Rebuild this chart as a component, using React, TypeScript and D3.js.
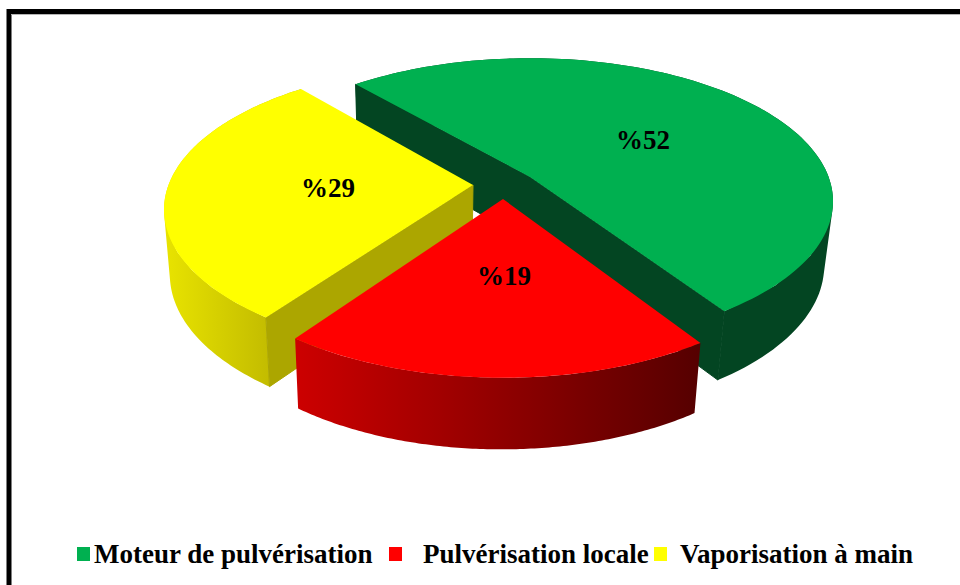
import React from "react";
import * as d3 from "d3";

const categories = ["Moteur de pulvérisation", "Pulvérisation locale", "Vaporisation à main"];
const shares = [52, 19, 29];
const topColors = ["#00b050", "#ff0000", "#ffff00"];
const cutColors = ["#034522", "#7a0000", "#aca600"];
// Which radial cut faces look toward the viewer: 0 = start edge, 1 = end edge
const visibleCuts = [[0, 1], [], [0]];
const wallStops = [
  ["#034522", "#034522"],
  ["#cc0000", "#560000"],
  ["#e8e300", "#c2bb00"],
];
// Horizontal span of each rim gradient
const wallSpans = [
  [350, 830],
  [298, 698],
  [166, 272],
];
// Position of each exploded slice's tip on the pie plane
const sliceTips = [
  [530, 177],
  [503, 199],
  [473, 185],
];
// Each exploded slice sits at a slightly different scale, tilt and turn
const sliceRadiusX = [298.6, 301, 304.5];
const sliceRadiusY = [139, 143, 141];
const slicePerspective = [0.17, 0.2, 0.17];
const sliceTurnDeg = [-0.7, 0.2, 0.8];
const labelPositions = [
  [643, 149],
  [504, 285],
  [328, 197],
];
const legendSwatchX = [77, 389, 654];
const legendTextX = [94, 423, 680];

const DEPTH_BASE = 56.5;
const DEPTH_PER_Y = 0.04;
const DEPTH_SCALE = 0.978;
const VANISH_X = 430;
const START_DEG = -40.5;
const ARC_STEPS = 120;
const WALL_CHUNK = 8;
const FONT = '"Liberation Serif", "Times New Roman", serif';

type Pt = [number, number];

// Perspective projection of a unit-disc point onto the screen
function rimPoint(i: number, angle: number): Pt {
  const u = Math.sin(angle);
  const v = -Math.cos(angle);
  const w = 1 - slicePerspective[i] * v;
  return [
    sliceTips[i][0] + (sliceRadiusX[i] * u) / w,
    sliceTips[i][1] + (sliceRadiusY[i] * v) / w,
  ];
}

// The same point dropped to the underside; the drop shrinks toward the back
function under(p: Pt): Pt {
  return [
    VANISH_X + (p[0] - VANISH_X) * DEPTH_SCALE,
    p[1] + DEPTH_BASE + DEPTH_PER_Y * p[1],
  ];
}

const closed = d3.line<Pt>().curve(d3.curveLinearClosed);

// The rim wall as hulls of short arc pieces: they share one winding, so a
// single path fills them without seams and keeps the tangent silhouette
function wallPath(rim: Pt[]): string {
  const pieces: string[] = [];
  for (let n = 0; n < rim.length - 1; n += WALL_CHUNK) {
    const chunk = rim.slice(n, n + WALL_CHUNK + 1);
    const hull = d3.polygonHull([...chunk, ...chunk.map(under)]) as Pt[];
    pieces.push(closed(hull)!);
  }
  return pieces.join("");
}

const arcs = d3
  .pie<number>()
  .sort(null)
  .startAngle((START_DEG * Math.PI) / 180)
  .endAngle((START_DEG * Math.PI) / 180 + 2 * Math.PI)(shares);

const drawOrder = [0, 2, 1];

export default function App() {
  return (
    <svg
      width={960}
      height={585}
      style={{ position: "absolute", left: 0, top: 0, background: "#fff" }}
    >
      <defs>
        {wallStops.map((stops, i) => (
          <linearGradient
            key={i}
            id={`wall-${i}`}
            gradientUnits="userSpaceOnUse"
            x1={wallSpans[i][0]}
            x2={wallSpans[i][1]}
            y1={0}
            y2={0}
          >
            <stop offset="0" stopColor={stops[0]} />
            <stop offset="1" stopColor={stops[1]} />
          </linearGradient>
        ))}
      </defs>

      <rect x={9} y={11.5} width={980} height={600} fill="none" stroke="#000" strokeWidth={5} />
      <line x1={11} x2={960} y1={14.5} y2={14.5} stroke="#b5b5b5" strokeWidth={1} />

      {drawOrder.map((i) => {
        const arc = arcs[i];
        const tip = sliceTips[i];
        const turn = (sliceTurnDeg[i] * Math.PI) / 180;
        const angles = d3.range(0, ARC_STEPS + 1).map(
          (n) => arc.startAngle + turn + ((arc.endAngle - arc.startAngle) * n) / ARC_STEPS
        );
        const rim = angles.map((a) => rimPoint(i, a));
        const tipPt: Pt = [tip[0], tip[1]];
        const ends = [rim[0], rim[rim.length - 1]];
        const cuts = visibleCuts[i];
        // Cut faces form one polygon so no seam shows at the tip
        const cutChain: Pt[] = cuts.includes(0) ? [ends[0], tipPt] : [tipPt];
        if (cuts.includes(1)) cutChain.push(ends[1]);
        return (
          <g key={i}>
            <path d={wallPath(rim)} fill={`url(#wall-${i})`} />
            {cuts.length > 0 && (
              <path
                d={closed([...cutChain, ...cutChain.map(under).reverse()])!}
                fill={cutColors[i]}
                stroke={cutColors[i]}
                strokeWidth={1}
              />
            )}
            <path d={closed([tipPt, ...rim])!} fill={topColors[i]} />
          </g>
        );
      })}

      {shares.map((s, i) => (
        <text
          key={i}
          x={labelPositions[i][0]}
          y={labelPositions[i][1]}
          textAnchor="middle"
          fontFamily={FONT}
          fontWeight="bold"
          fontSize={27}
          fill="#000"
        >
          {`%${s}`}
        </text>
      ))}

      {categories.map((c, i) => (
        <g key={c}>
          <rect x={legendSwatchX[i]} y={547} width={13} height={14} fill={topColors[i]} />
          <text
            x={legendTextX[i]}
            y={563}
            fontFamily={FONT}
            fontWeight="bold"
            fontSize={27}
            fill="#000"
          >
            {c}
          </text>
        </g>
      ))}
    </svg>
  );
}
